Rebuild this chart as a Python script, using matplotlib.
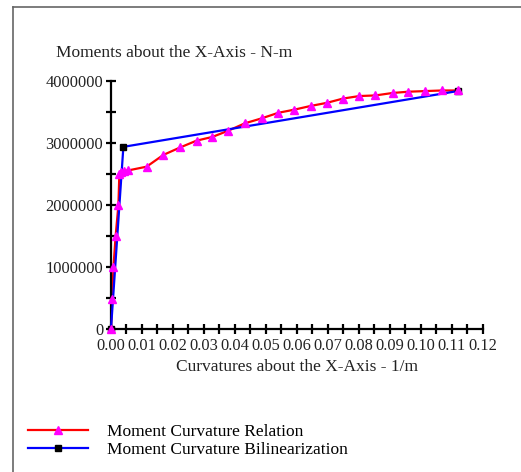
import matplotlib.pyplot as plt
from matplotlib.lines import Line2D
from matplotlib.ticker import MultipleLocator, FuncFormatter

# moment-curvature relation
curv = [0.0, 0.0004, 0.0008, 0.0015, 0.0024, 0.0027, 0.0033, 0.0042, 0.0056,
        0.0115, 0.0169, 0.0223, 0.0276, 0.0327, 0.0378, 0.0432, 0.0486, 0.054,
        0.0591, 0.0644, 0.0696, 0.0749, 0.0801, 0.0853, 0.0909, 0.0959, 0.1013,
        0.1067, 0.112]
moment = [0, 480000, 1000000, 1500000, 2000000, 2500000, 2530000, 2550000, 2560000,
          2620000, 2810000, 2930000, 3040000, 3100000, 3200000, 3320000, 3400000, 3490000,
          3540000, 3600000, 3650000, 3720000, 3760000, 3770000, 3810000, 3830000, 3840000,
          3850000, 3850000]

# bilinear idealisation
bil_curv = [0.0, 0.004, 0.1118]
bil_moment = [0, 2940000, 3840000]

xticks = [0.0, 0.01, 0.02, 0.03, 0.04, 0.05, 0.06, 0.07, 0.08, 0.09, 0.10, 0.11, 0.12]
yticks = [0, 1000000, 2000000, 3000000, 4000000]

font = 'Liberation Serif'
fs = 12.5
fs_tick = 11.8
txt_col = '#222222'

fig = plt.figure(figsize=(5.21, 4.72), dpi=100)
ax = fig.add_axes([0.213, 0.303, 0.714, 0.525])

ax.plot(curv, moment, color='#ff0000', lw=1.6, zorder=2, clip_on=False)
ax.plot(bil_curv, bil_moment, color='#0000ff', lw=1.6, marker='s', ms=4.5,
        mfc='black', mec='black', zorder=3, clip_on=False)
ax.plot(curv, moment, ls='none', marker='^', ms=6, mfc='#ff00ff', mec='#ff00ff',
        zorder=4, clip_on=False)

ax.set_xlim(0, 0.12)
ax.set_ylim(0, 4000000)
ax.set_xticks(xticks)
ax.set_yticks(yticks)
ax.xaxis.set_minor_locator(MultipleLocator(0.005))
ax.yaxis.set_minor_locator(MultipleLocator(500000))
ax.xaxis.set_major_formatter(FuncFormatter(lambda v, p: f'{v:.2f}'))
ax.yaxis.set_major_formatter(FuncFormatter(lambda v, p: f'{int(round(v))}'))

for s in ['top', 'right']:
    ax.spines[s].set_visible(False)
for s in ['left', 'bottom']:
    ax.spines[s].set_linewidth(1.6)
    ax.spines[s].set_color('black')

ax.tick_params(which='both', direction='inout', length=7, width=1.6, color='black')
ax.tick_params(axis='x', which='major', pad=3)
ax.tick_params(axis='y', which='major', pad=2)
for lab in ax.get_xticklabels() + ax.get_yticklabels():
    lab.set_fontfamily(font)
    lab.set_fontsize(fs_tick)
    lab.set_color(txt_col)

fig.text(56 / 521, 1 - 53 / 472, 'Moments about the X-Axis - N-m', family=font,
         fontsize=fs, color=txt_col, ha='left', va='center')
fig.text(297 / 521, 1 - 367 / 472, 'Curvatures about the X-Axis - 1/m', family=font,
         fontsize=fs, color=txt_col, ha='center', va='center')

handles = [
    Line2D([], [], color='#ff0000', lw=1.6, marker='^', ms=6, mfc='#ff00ff', mec='#ff00ff'),
    Line2D([], [], color='#0000ff', lw=1.6, marker='s', ms=4.5, mfc='black', mec='black'),
]
fig.legend(handles, ['Moment Curvature Relation', 'Moment Curvature Bilinearization'],
           loc='upper left', bbox_to_anchor=(28 / 521, 1 - 424 / 472), frameon=False,
           prop={'family': font, 'size': fs}, handlelength=3.45, handletextpad=1.1,
           labelspacing=0.12, borderpad=0, borderaxespad=0, numpoints=1)

# thin grey frame on top and left edge
fig.add_artist(Line2D([13 / 521, 13 / 521], [0, 1 - 7 / 472], color='#666666', lw=1.2))
fig.add_artist(Line2D([13 / 521, 1], [1 - 7 / 472, 1 - 7 / 472], color='#666666', lw=1.2))

fig.savefig('out.png', dpi=100)
